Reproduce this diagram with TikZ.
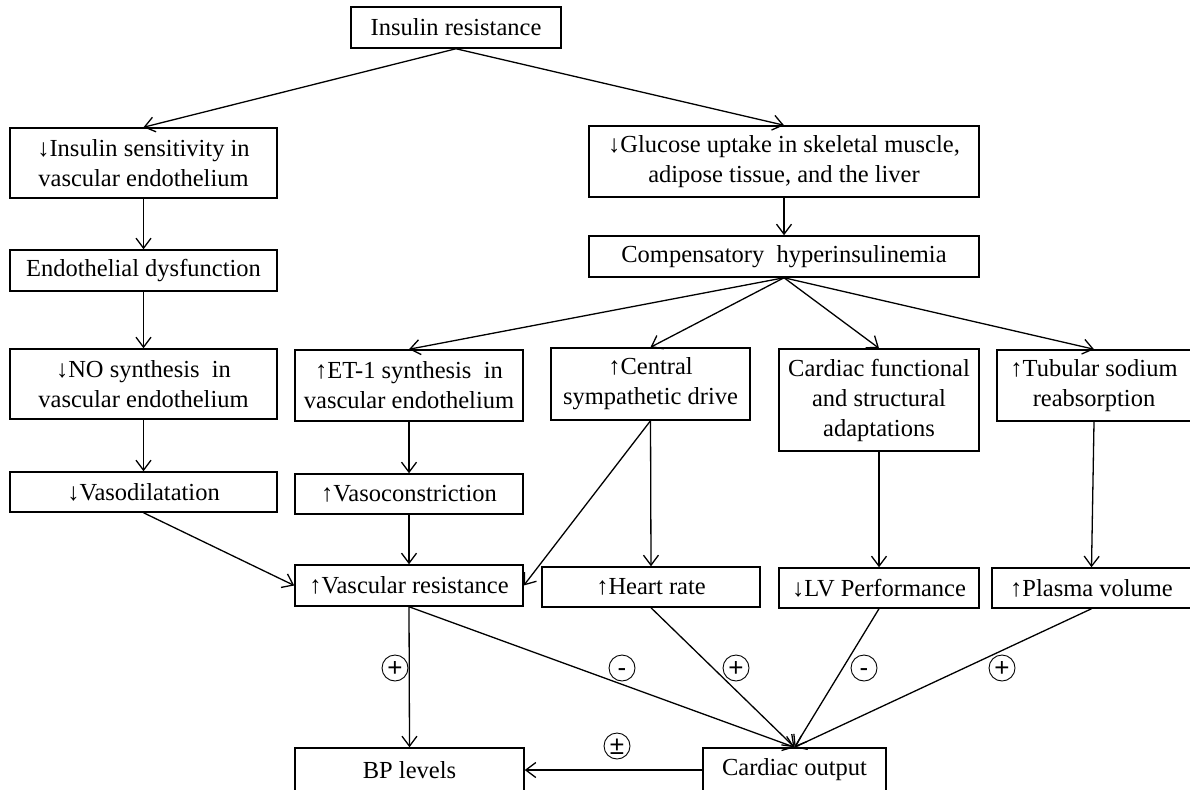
\documentclass[tikz,border=0pt]{standalone}
\usepackage{fontspec}
\setmainfont{Liberation Serif}
\newfontfamily\signfont{Liberation Sans}
\usetikzlibrary{arrows.meta}
\begin{document}
\begin{tikzpicture}[x=1pt,y=-1pt,
 box/.style={draw, line width=1.5pt, rectangle, inner sep=0pt, align=center, font=\fontsize{24.5}{30}\selectfont},
 arr/.style={line width=1.3pt, -{Straight Barb[length=10pt,width=15pt,line width=1.3pt]}},
 sign/.style={circle, draw, line width=0.9pt, minimum size=26pt, inner sep=0pt, text height=16pt, text depth=0pt, font=\signfont\fontsize{26}{26}\selectfont}]
\useasboundingbox (0,0) rectangle (1190,789);
\node[box, minimum width=210pt, minimum height=41pt] (ir) at (456,27.5) {Insulin resistance};
\node[box, minimum width=267pt, minimum height=70pt] (isens) at (143.5,163) {↓Insulin sensitivity in\\vascular endothelium};
\node[box, minimum width=267pt, minimum height=41pt] (endo) at (143.5,270.5) {Endothelial dysfunction};
\node[box, minimum width=267pt, minimum height=70pt] (no) at (143.5,384) {↓NO synthesis\ \ in\\vascular endothelium};
\node[box, minimum width=267pt, minimum height=40pt] (vasod) at (143.5,492) {↓Vasodilatation};
\node[box, minimum width=390pt, minimum height=71pt] (gluc) at (784,161.5) {↓Glucose uptake in skeletal muscle,\\adipose tissue, and the liver};
\node[box, minimum width=390pt, minimum height=41pt] (comp) at (784,256.5) {Compensatory\ \ hyperinsulinemia};
\node[box, minimum width=228pt, minimum height=71pt] (et1) at (409,385.5) {↑ET-1 synthesis\ \ in\\vascular endothelium};
\node[box, minimum width=228pt, minimum height=40pt] (vcon) at (409,494) {↑Vasoconstriction};
\node[box, minimum width=199pt, minimum height=72pt] (cent) at (650.5,384) {↑Central\\sympathetic drive};
\node[box, minimum width=200pt, minimum height=102pt] (cfa) at (879,400) {Cardiac functional\\and structural\\adaptations};
\node[box, minimum width=194pt, minimum height=71pt] (tub) at (1094,385.5) {↑Tubular sodium\\reabsorption};
\node[box, minimum width=228pt, minimum height=41pt] (vr) at (409,585.5) {↑Vascular resistance};
\node[box, minimum width=218pt, minimum height=40pt] (hr) at (651,587) {↑Heart rate};
\node[box, minimum width=200pt, minimum height=40pt] (lv) at (879,588) {↓LV Performance};
\node[box, minimum width=199pt, minimum height=40pt] (pv) at (1091.5,588) {↑Plasma volume};
\node[box, minimum width=229pt, minimum height=44pt] (bp) at (409.5,770) {BP levels};
\node[box, minimum width=183pt, minimum height=44pt] (co) at (794.5,770) {Cardiac output};
\draw[arr] (ir.south) -- (isens.north);
\draw[arr] (ir.south) -- (gluc.north);
\draw[arr] (isens) -- (endo);
\draw[arr] (endo) -- (no);
\draw[arr] (no) -- (vasod);
\draw[arr] (gluc) -- (comp);
\draw[arr] (comp.south) -- (et1.north);
\draw[arr] (comp.south) -- (cent.north);
\draw[arr] (comp.south) -- (cfa.north);
\draw[arr] (comp.south) -- (tub.north);
\draw[arr] (et1) -- (vcon);
\draw[arr] (vcon) -- (vr);
\draw[arr] (vasod.south) -- (vr.west);
\draw[arr] (cent.south) -- (vr.east);
\draw[arr] (cent.south) -- (hr.north);
\draw[arr] (cfa.south) -- (lv.north);
\draw[arr] (tub.south) -- (pv.north);
\draw[arr] (vr.south) -- (bp.north);
\draw[arr] (vr.south) -- (co.north);
\draw[arr] (hr.south) -- (co.north);
\draw[arr] (lv.south) -- (co.north);
\draw[arr] (pv.south) -- (co.north);
\draw[arr] (co.west) -- (bp.east);
\node[sign] (s1) at (395,668) {+};
\node[sign] (s2) at (622,668) {-};
\node[sign] (s3) at (736,668) {+};
\node[sign] (s4) at (864,668) {-};
\node[sign] (s5) at (1002,668) {+};
\node[sign] (s6) at (617,746) {±};
\end{tikzpicture}
\end{document}
